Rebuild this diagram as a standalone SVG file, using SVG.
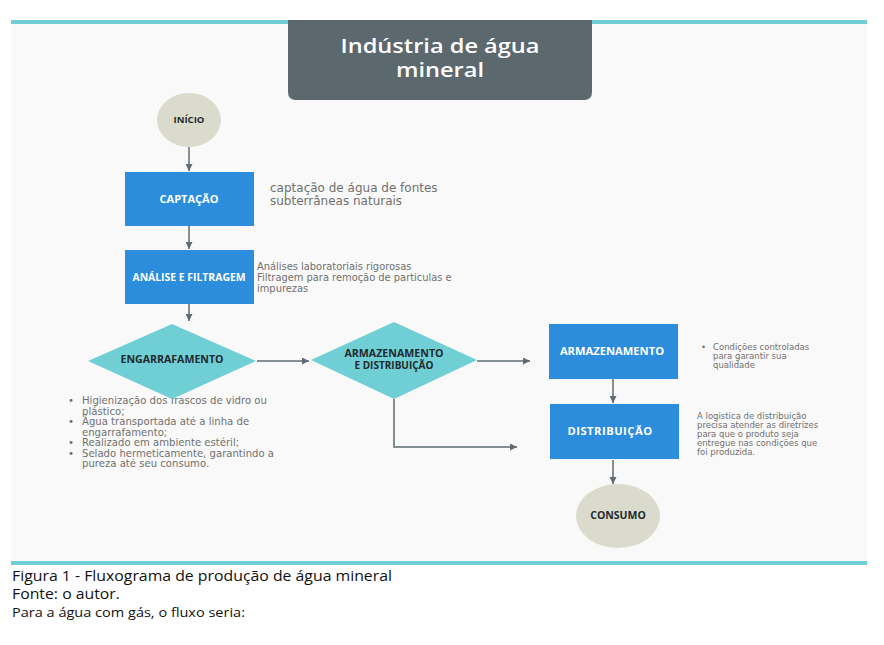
<svg xmlns="http://www.w3.org/2000/svg" width="884" height="645" viewBox="0 0 884 645">
<defs>
<marker id="ah" viewBox="0 0 10 10" refX="10" refY="5" markerWidth="7" markerHeight="7" markerUnits="userSpaceOnUse" orient="auto">
<path d="M0,0 L10,5 L0,10 z" fill="#5f6b70"/>
</marker>
<style>
.box{fill:#2b8ddc}
.dia{fill:#70cfd5}
.ell{fill:#dadbcd}
.bl{font-family:"Open Sans","Liberation Sans",sans-serif;font-weight:700;fill:#ffffff;text-anchor:middle}
.dl{font-family:"Open Sans","Liberation Sans",sans-serif;font-weight:700;fill:#1e2a2e;text-anchor:middle}
.desc{font-family:"DejaVu Sans","Liberation Sans",sans-serif;fill:#707070}
.cap{font-family:"Open Sans","Liberation Sans",sans-serif;fill:#111111}
.ttl{font-family:"Open Sans","Liberation Sans",sans-serif;font-weight:600;font-size:19px;fill:#ffffff;text-anchor:middle}
.conn{stroke:#5f6b70;stroke-width:1.5;fill:none}
</style>
</defs>
<rect x="0" y="0" width="884" height="645" fill="#ffffff"/>
<rect x="11" y="24" width="856" height="537" fill="#f9f9f9"/>
<rect x="11" y="20" width="856" height="4" fill="#70cfd5"/>
<rect x="11" y="561" width="856" height="4" fill="#70cfd5"/>

<g id="title">
<path d="M288,20 H592 V92 Q592,100 584,100 H296 Q288,100 288,92 Z" fill="#5b686e"/>
<text class="ttl" x="440" y="53" textLength="199" lengthAdjust="spacingAndGlyphs">Indústria de água</text>
<text class="ttl" x="440" y="77" textLength="88" lengthAdjust="spacingAndGlyphs">mineral</text>
</g>

<g id="descriptions">
<text class="desc" font-size="12"><tspan x="270" y="192">captação de água de fontes</tspan><tspan x="270" y="205">subterrâneas naturais</tspan></text>
<text class="desc" font-size="9.9"><tspan x="257" y="270">Análises laboratoriais rigorosas</tspan><tspan x="257" y="281">Filtragem para remoção de particulas e</tspan><tspan x="257" y="292">impurezas</tspan></text>
<g class="desc" font-size="10.1">
<text x="68" y="404">•</text><text x="82" y="404">Higienização dos frascos de vidro ou</text>
<text x="82" y="414.5">plástico;</text>
<text x="68" y="425">•</text><text x="82" y="425">Água transportada até a linha de</text>
<text x="82" y="435.5">engarrafamento;</text>
<text x="68" y="446">•</text><text x="82" y="446">Realizado em ambiente estéril;</text>
<text x="68" y="456.5">•</text><text x="82" y="456.5">Selado hermeticamente, garantindo a</text>
<text x="82" y="467">pureza até seu consumo.</text>
</g>
<g class="desc" font-size="8.5">
<text x="701" y="350">•</text><text x="713" y="350">Condições controladas</text>
<text x="713" y="359">para garantir sua</text>
<text x="713" y="368">qualidade</text>
</g>
<text class="desc" font-size="8.5"><tspan x="697" y="419">A logistica de distribuição</tspan><tspan x="697" y="428">precisa atender as diretrizes</tspan><tspan x="697" y="437">para que o produto seja</tspan><tspan x="697" y="446">entregue nas condições que</tspan><tspan x="697" y="455">foi produzida.</tspan></text>
</g>

<g id="connectors">
<line class="conn" x1="189" y1="147" x2="189" y2="171" marker-end="url(#ah)"/>
<line class="conn" x1="189" y1="226" x2="189" y2="249" marker-end="url(#ah)"/>
<line class="conn" x1="189" y1="304" x2="189" y2="321" marker-end="url(#ah)"/>
<line class="conn" x1="257" y1="361" x2="309" y2="361" marker-end="url(#ah)"/>
<line class="conn" x1="477" y1="361" x2="530" y2="361" marker-end="url(#ah)"/>
<polyline class="conn" points="394,399 394,447 517,447" marker-end="url(#ah)"/>
<line class="conn" x1="613" y1="379" x2="613" y2="403" marker-end="url(#ah)"/>
<line class="conn" x1="613" y1="460" x2="613" y2="484" marker-end="url(#ah)"/>
</g>

<g id="inicio">
<ellipse class="ell" cx="189" cy="120" rx="32" ry="27"/>
<text class="dl" x="189" y="123" font-size="9.5">INÍCIO</text>
</g>
<g id="captacao">
<rect class="box" x="125" y="172" width="129" height="54"/>
<text class="bl" x="189" y="203" font-size="11">CAPTAÇÃO</text>
</g>
<g id="analise">
<rect class="box" x="125" y="250" width="129" height="54"/>
<text class="bl" x="189" y="281" font-size="10.4">ANÁLISE E FILTRAGEM</text>
</g>
<g id="engarrafamento">
<polygon class="dia" points="172,324 256,361 172,399 88,361"/>
<text class="dl" x="172" y="363" font-size="10.6">ENGARRAFAMENTO</text>
</g>
<g id="armazenamento-distribuicao">
<polygon class="dia" points="394,322 477,360 394,399 311,360"/>
<text class="dl" x="394" y="356.5" font-size="10" textLength="99" lengthAdjust="spacingAndGlyphs">ARMAZENAMENTO</text>
<text class="dl" x="394" y="368.5" font-size="10">E DISTRIBUIÇÃO</text>
</g>
<g id="armazenamento">
<rect class="box" x="549" y="324" width="129" height="55"/>
<text class="bl" x="612" y="355" font-size="11.2">ARMAZENAMENTO</text>
</g>
<g id="distribuicao">
<rect class="box" x="550" y="404" width="129" height="55"/>
<text class="bl" x="610" y="435" font-size="11.2" letter-spacing="0.5">DISTRIBUIÇÃO</text>
</g>
<g id="consumo">
<ellipse class="ell" cx="618" cy="516" rx="42" ry="32"/>
<text class="dl" x="618" y="519" font-size="10.5">CONSUMO</text>
</g>

<g id="caption">
<text class="cap" x="12" y="581" font-size="14.6" textLength="380" lengthAdjust="spacingAndGlyphs">Figura 1 - Fluxograma de produção de água mineral</text>
<text class="cap" x="12" y="599" font-size="14.6" textLength="108" lengthAdjust="spacingAndGlyphs">Fonte: o autor.</text>
<text class="cap" x="12" y="617" font-size="13.4" textLength="233" lengthAdjust="spacingAndGlyphs">Para a água com gás, o fluxo seria:</text>
</g>
</svg>
